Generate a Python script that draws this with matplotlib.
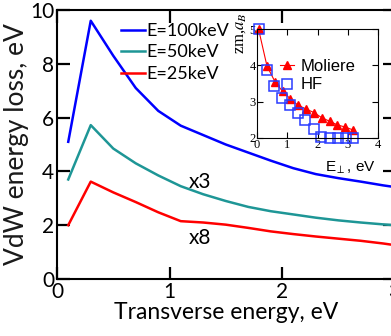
import numpy as np
import matplotlib
matplotlib.use('Agg')
import matplotlib.pyplot as plt

# curvas principales (energía transversal en eV, pérdida VdW en eV)
x_main = [0.1, 0.3, 0.5, 0.7, 0.9, 1.1, 1.3, 1.5, 1.7, 1.9, 2.1, 2.3, 2.5, 2.7, 2.9, 3.0]
e100 = [5.1, 9.6, 8.3, 7.1, 6.25, 5.7, 5.35, 5.0, 4.7, 4.4, 4.12, 3.9, 3.75, 3.62, 3.48, 3.42]
e50 = [3.7, 5.72, 4.85, 4.3, 3.85, 3.45, 3.15, 2.9, 2.68, 2.52, 2.4, 2.28, 2.18, 2.1, 2.03, 2.0]
e25 = [2.0, 3.62, 3.22, 2.86, 2.48, 2.15, 2.1, 2.02, 1.9, 1.77, 1.67, 1.58, 1.5, 1.42, 1.32, 1.26]
labels = ['E=100keV', 'E=50keV', 'E=25keV']
colors = ['#0000ff', '#1e9696', '#ff0000']

# inset: distancia zm (a_B) frente a E_perp
x_mol = [0.05, 0.33, 0.6, 0.85, 1.1, 1.36, 1.62, 1.88, 2.14, 2.4, 2.66, 2.92, 3.18]
zm_mol = [5.0, 3.98, 3.54, 3.28, 3.08, 2.9, 2.8, 2.7, 2.56, 2.46, 2.36, 2.3, 2.22]
x_hf = [0.05, 0.32, 0.55, 0.83, 1.09, 1.34, 1.59, 1.87, 2.1, 2.4, 2.68, 2.95, 3.18]
zm_hf = [5.0, 3.88, 3.42, 3.1, 2.9, 2.7, 2.5, 2.26, 2.04, 2.0, 2.0, 2.0, 2.0]

plt.rcParams['font.family'] = ['Lato', 'DejaVu Sans']
plt.rcParams['mathtext.fontset'] = 'stix'

fig = plt.figure(figsize=(3.91, 3.36), dpi=100)
ax = fig.add_axes([57/391, 57/336, 337.5/391, 269/336])

for y, lab, c in zip([e100, e50, e25], labels, colors):
    ax.plot(x_main, y, color=c, lw=1.8, label=lab)

ax.set_xlim(0, 3)
ax.set_ylim(0, 10)
ax.set_xticks([0, 1, 2, 3])
ax.set_yticks([0, 2, 4, 6, 8, 10])
ax.tick_params(direction='in', length=9, width=1.6, labelsize=15, top=True, right=True, pad=2)
for s in ax.spines.values():
    s.set_linewidth(1.5)
ax.set_xlabel('Transverse energy, eV', fontsize=16.5, labelpad=0)
ax.set_ylabel('VdW energy loss, eV', fontsize=19, labelpad=1, color='#1a1a1a')

ax.text(1.27, 3.62, 'x3', fontsize=15, ha='center', va='center')
ax.text(1.27, 1.52, 'x8', fontsize=15, ha='center', va='center')

ax.legend(loc='upper left', bbox_to_anchor=(0.163, 0.985), frameon=False, fontsize=13,
          handlelength=1.3, handletextpad=0.1, labelspacing=0.3, alignment='right',
          borderpad=0)

# inset
ins = fig.add_axes([257/391, 1 - 138/336, 121/391, 109/336])
ins.plot(x_mol, zm_mol, color='red', lw=0.8, marker='^', ms=6, ls='-', label='Moliere', clip_on=False)
ins.plot(x_hf, zm_hf, color='#2a3cff', marker='s', ms=7, mfc='none', mew=1.1, ls='none',
         label='HF', clip_on=False)
ins.set_xlim(0, 4)
ins.set_ylim(2, 5)
ins.set_xticks([0, 1, 2, 3, 4])
ins.set_yticks([2, 3, 4, 5])
ins.tick_params(direction='in', length=4, width=0.8, labelsize=9, top=True, right=True, pad=1)
for lb in ins.get_xticklabels() + ins.get_yticklabels():
    lb.set_family('Liberation Serif')
for s in ins.spines.values():
    s.set_linewidth(0.8)
ins.set_ylabel('zm,$a_B$', fontsize=12, family='Liberation Serif', labelpad=0)
ins.yaxis.set_label_coords(-0.075, 0.96)
ins.set_xlabel(r'E$_\perp$, eV', fontsize=11, family='Liberation Sans', labelpad=0)
ins.xaxis.set_label_coords(0.77, -0.2)
ins.legend(loc='upper right', bbox_to_anchor=(0.88, 0.8), frameon=False,
           handlelength=0.8, handletextpad=0.4, labelspacing=0.2, alignment='right',
           borderpad=0, prop={'family': 'Liberation Sans', 'size': 12})

fig.savefig('out.png', dpi=100)
